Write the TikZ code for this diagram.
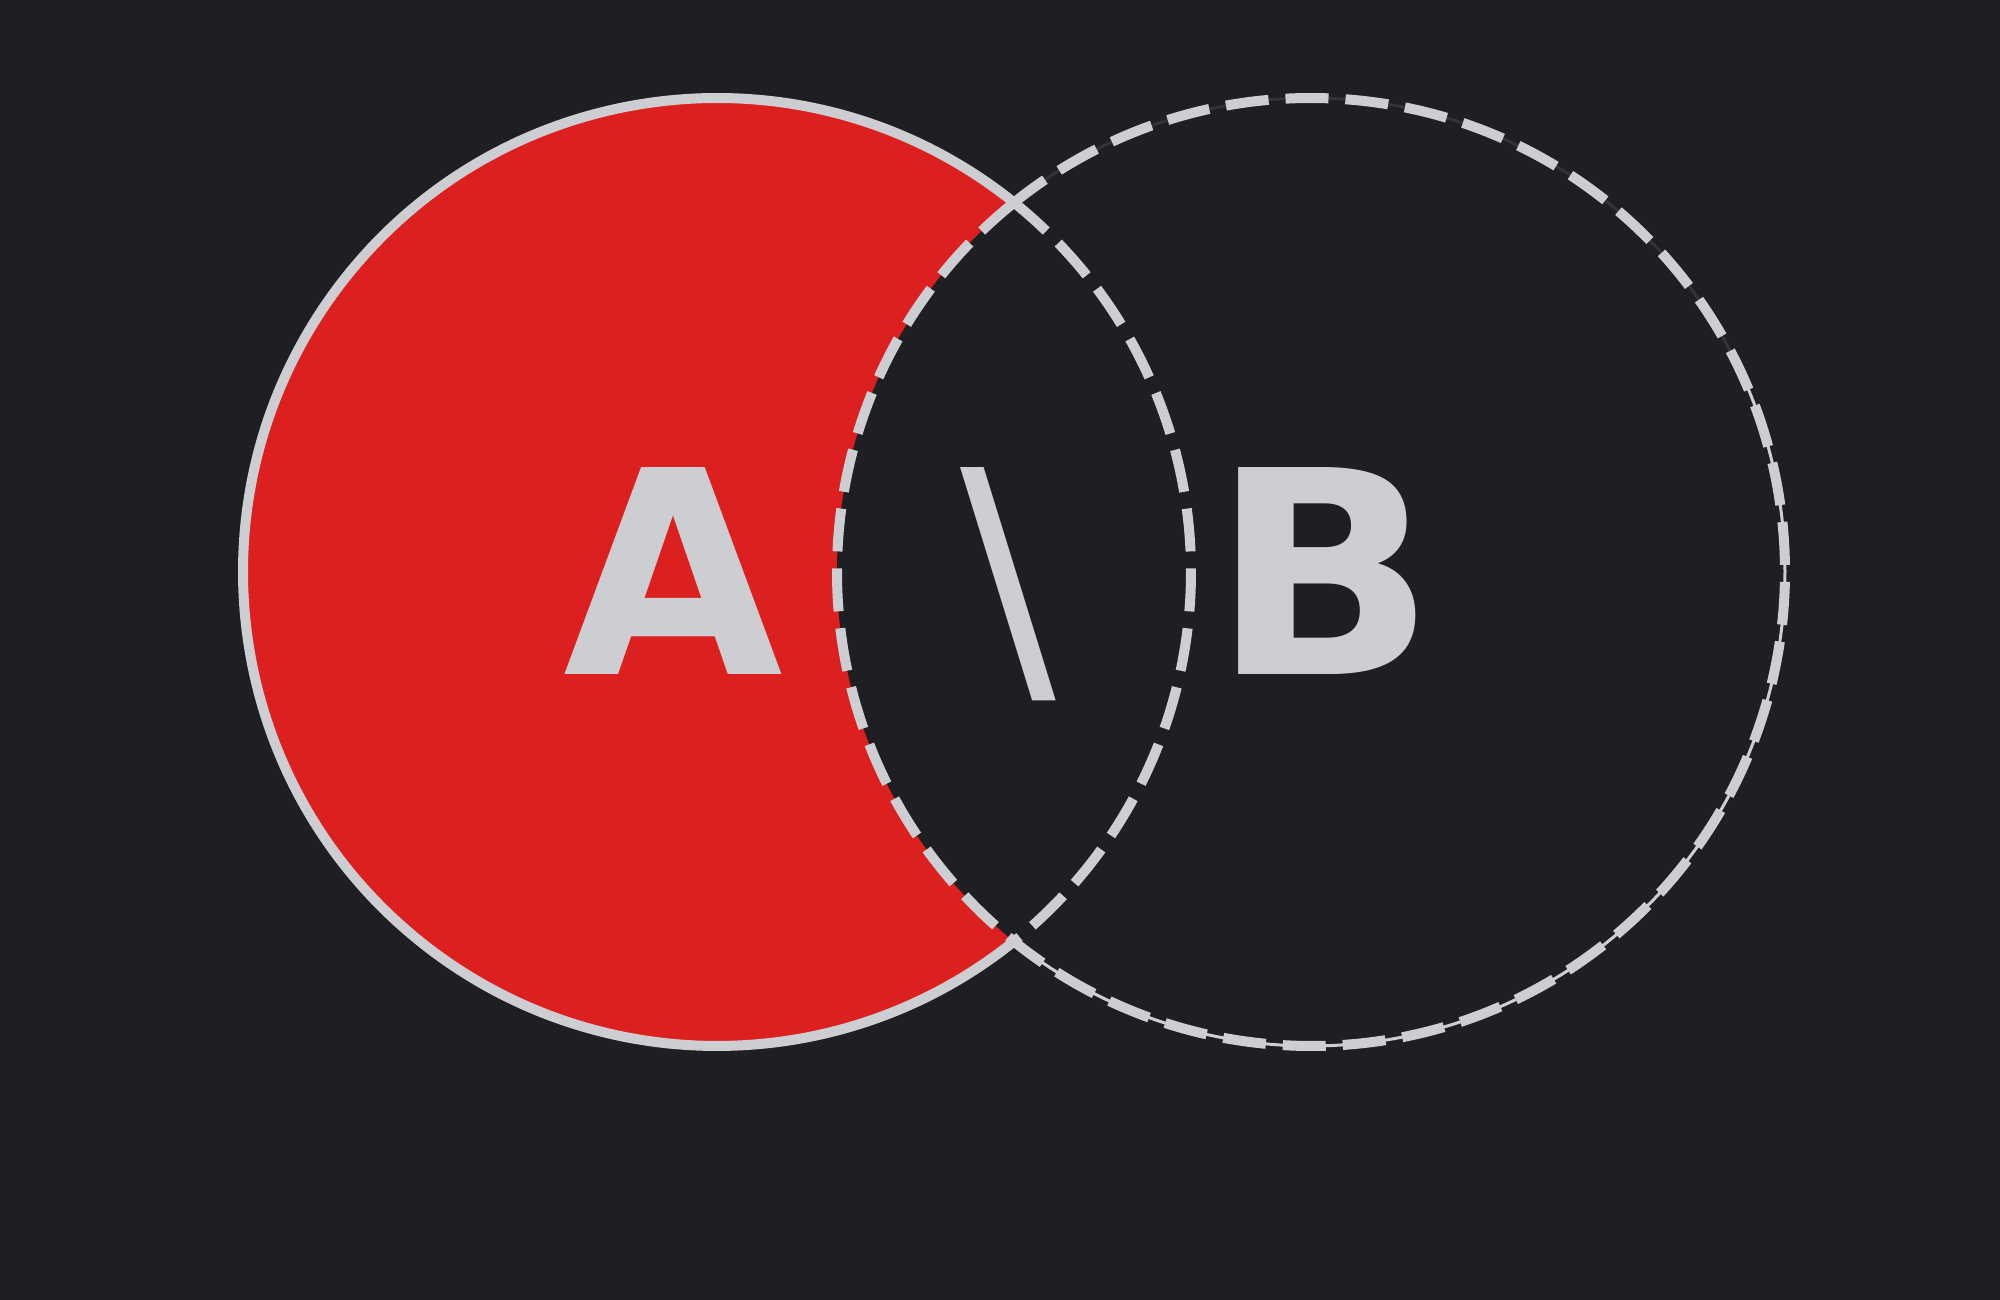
\documentclass[tikz,border=0pt]{standalone}
\usepackage{fontspec}
\setmainfont{DejaVu Sans}
\newfontfamily\labelfont{DejaVu Sans Bold}
\newfontfamily\opfont{DejaVu Sans}
\usepackage{graphicx}
\definecolor{bgc}{RGB}{30,31,35}
\definecolor{setred}{RGB}{220,31,31}
\definecolor{linec}{RGB}{205,206,210}
\begin{document}
\begin{tikzpicture}[
  outline/.style={draw=linec, line width=0.1cm},
  dashline/.style={draw=linec, line width=0.1cm, dash pattern=on 0.43cm off 0.17cm},
  thinline/.style={line width=0.03cm},
  bigletter/.style={text=linec, inner sep=0, font=\labelfont\fontsize{80.8pt}{81pt}\selectfont},
  opletter/.style={text=linec, inner sep=0, font=\opfont\fontsize{80.8pt}{81pt}\selectfont}
]
\useasboundingbox (0,0) rectangle (20,-13);
\fill[bgc] (0,0) rectangle (20,-13);
\coordinate (ca) at (7.17,-5.72);
\coordinate (cb) at (13.11,-5.72);
% fill A minus B
\fill[setred] (ca) circle (4.74);
\fill[bgc] (cb) circle (4.74);
% B outer thin line
\draw[thinline, draw=linec] ([shift={(-128.8:4.74)}]cb) arc[start angle=-128.8, end angle=26, radius=4.74];
\draw[thinline, draw=black!80] ([shift={(26:4.74)}]cb) arc[start angle=26, end angle=128.8, radius=4.74];
% B dashed circle
\draw[dashline] ([shift={(128.8:4.74)}]cb) arc[start angle=128.8, end angle=488.8, radius=4.74];
% A outer solid arc
\draw[outline] ([shift={(51.2:4.74)}]ca) arc[start angle=51.2, end angle=308.8, radius=4.74];
% A inner dashed arc
\draw[dashline] ([shift={(51.2:4.74)}]ca) arc[start angle=51.2, end angle=-51.2, radius=4.74];
% labels
\node[bigletter, anchor=base west] (la) at (5.63,-6.75) {A};
\node[opletter, anchor=base] (ls) at (10.08,-6.75) {\textbackslash};
\node[bigletter, anchor=base west] (lb) at (12.11,-6.75) {\scalebox{1.04}[1]{B}};
\end{tikzpicture}
\end{document}
